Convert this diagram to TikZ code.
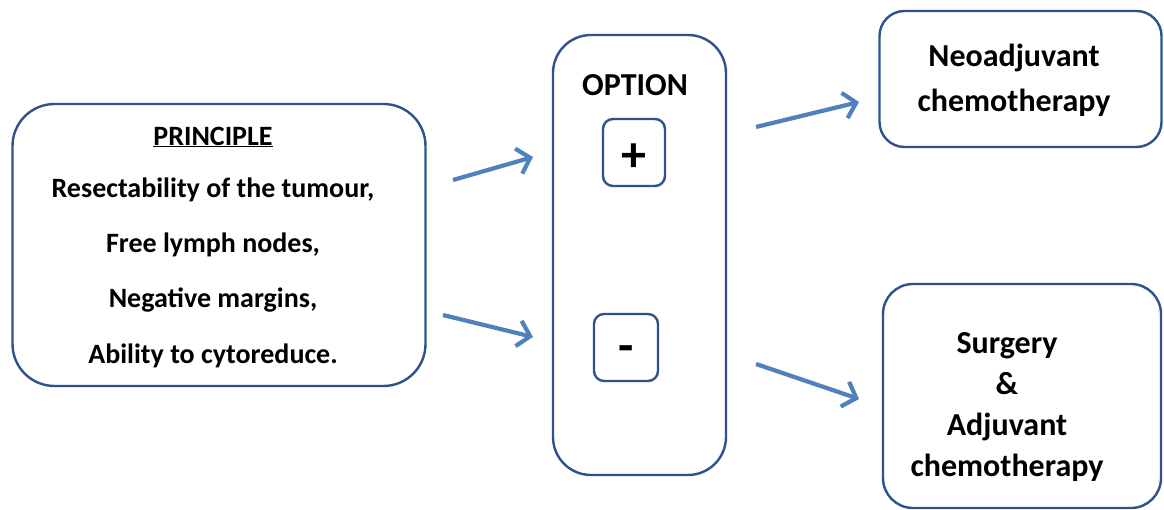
\documentclass[tikz,border=0pt]{standalone}
\usepackage{fontspec}
\setmainfont{Carlito}
\usetikzlibrary{arrows.meta}
\definecolor{boxblue}{RGB}{47,82,143}
\definecolor{arrblue}{RGB}{79,129,189}
\begin{document}
\begin{tikzpicture}[x=1pt,y=-1pt,
  box/.style={draw=boxblue, line width=2.4pt, rounded corners=#1, inner sep=0pt, fill=white},
  box/.default=40pt,
  txt/.style={font=\bfseries, align=center, inner sep=0pt},
  ptxt/.style={txt, font=\bfseries\fontsize{28}{30}\selectfont},
  arr/.style={draw=arrblue, line width=4.2pt, -{Straight Barb[length=12pt,width=26pt,line width=4.2pt]}}]
\useasboundingbox[fill=white] (0,0) rectangle (1164,510);
% boxes
\node[box=42pt, minimum width=413pt, minimum height=282pt] (prin) at (219,245) {};
\node[box=38pt, minimum width=173pt, minimum height=440pt] (opt) at (639.5,255) {};
\node[box=10pt, minimum width=62pt, minimum height=67pt] (plus) at (634,152.5) {};
\node[box=10pt, minimum width=64pt, minimum height=67pt] (minus) at (626,347.5) {};
\node[box=25pt, minimum width=282pt, minimum height=136pt] (neo) at (1020.5,79) {};
\node[box=30pt, minimum width=278pt, minimum height=224pt] (surg) at (1022,396) {};
% texts
\node[ptxt] (tp) at (213,137) {\underline{PRINCIPLE}};
\node[ptxt] (t1) at (213,190) {Resectability of the tumour,};
\node[ptxt] (t2) at (213,245) {Free lymph nodes,};
\node[ptxt] (t3) at (213,300) {Negative margins,};
\node[ptxt] (t4) at (213,356) {Ability to cytoreduce.};
\node[txt, font=\bfseries\fontsize{32}{34}\selectfont] (topt) at (635,85) {OPTION};
\node[txt, font=\bfseries\fontsize{50}{50}\selectfont] (tplus) at (634,158) {+};
\node[txt, font=\bfseries\fontsize{50}{50}\selectfont] (tminus) at (626,354) {-};
\node[txt, font=\bfseries\fontsize{32}{45}\selectfont] (tneo) at (1014,80) {Neoadjuvant\\chemotherapy};
\node[txt, font=\bfseries\fontsize{32}{41}\selectfont] (tsurg) at (1007,407) {Surgery\\\&\\Adjuvant\\chemotherapy};
% arrows
\coordinate (a1s) at (453,180); \coordinate (a1e) at (533,157);
\coordinate (a2s) at (443,315); \coordinate (a2e) at (533,337);
\coordinate (a3s) at (756,127); \coordinate (a3e) at (859,102);
\coordinate (a4s) at (756,364); \coordinate (a4e) at (859,399);
\draw[arr] (a1s) -- (a1e);
\draw[arr] (a2s) -- (a2e);
\draw[arr] (a3s) -- (a3e);
\draw[arr] (a4s) -- (a4e);
\end{tikzpicture}
\end{document}
